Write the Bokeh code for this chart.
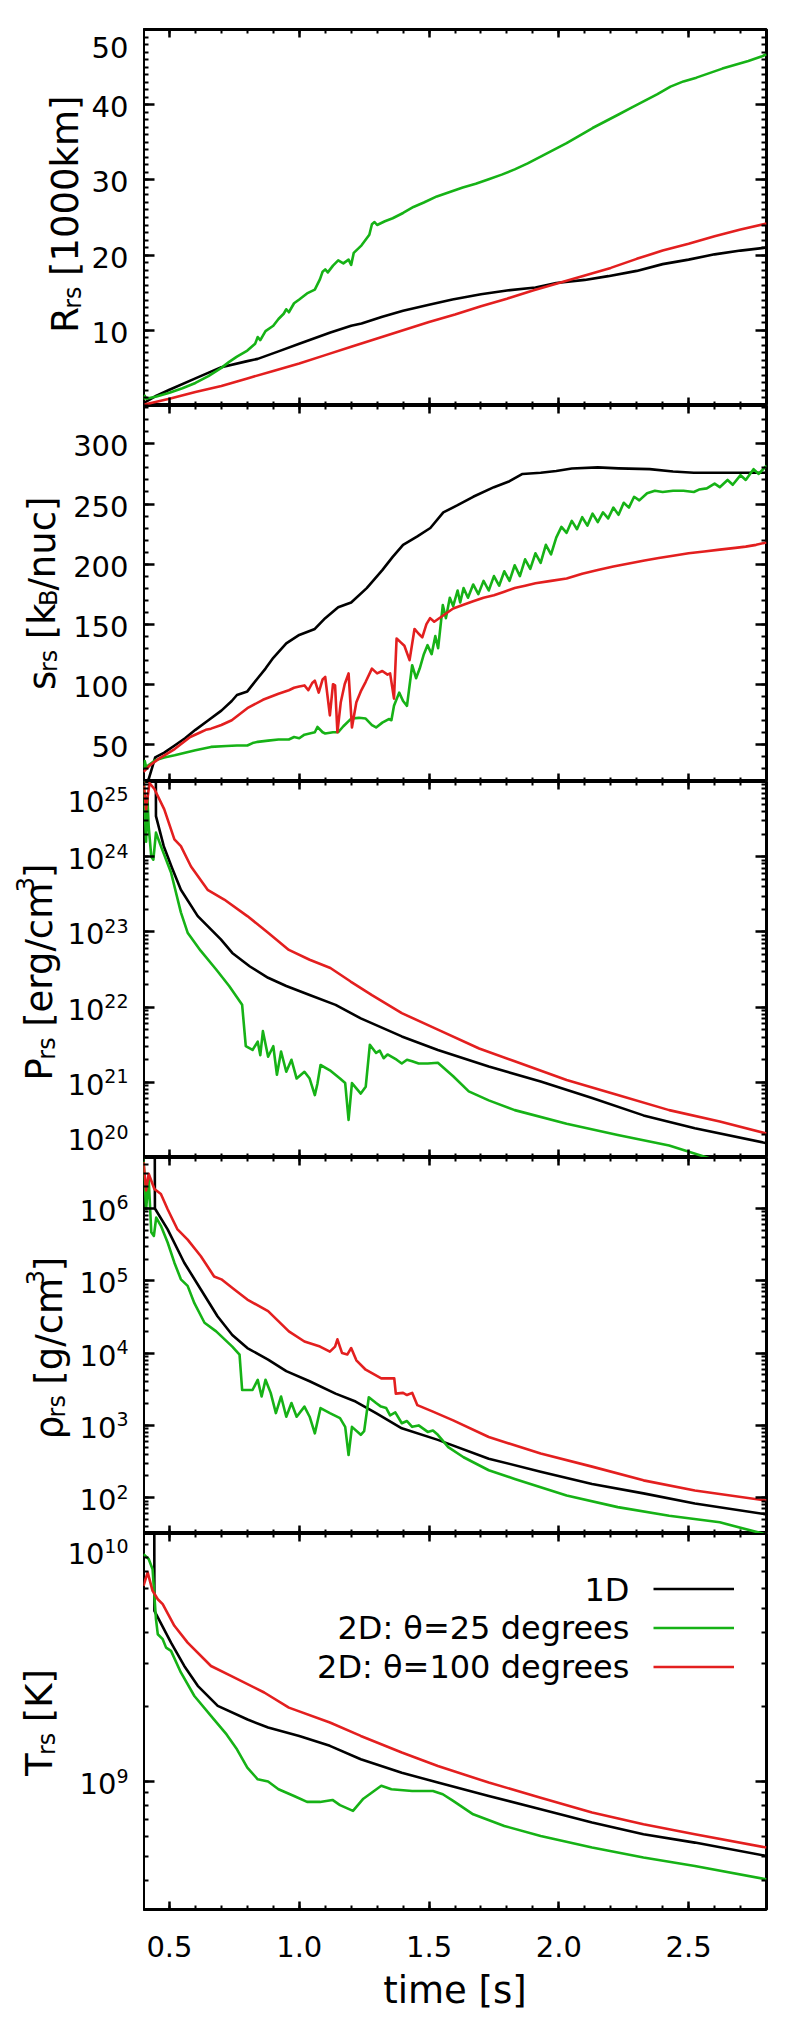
import numpy as np
from math import pi, log10
from bokeh.plotting import figure
from bokeh.models import (FixedTicker, LinearAxis, Label, Legend, LegendItem,
                          Range1d, PrintfTickFormatter, CustomJSTickFormatter)
from bokeh.core.properties import value
from bokeh.layouts import column, row
from bokeh.embed import file_html
from bokeh.resources import INLINE

# ---------------- data (time in s) ----------------
# Panel 1: shock radius [1000 km]
R_t_1d = [0.40, 0.45, 0.50, 0.60, 0.70, 0.80, 0.84, 0.92, 1.00, 1.04, 1.12, 1.20, 1.24, 1.32, 1.40,
          1.50, 1.59, 1.70, 1.80, 1.91, 1.99, 2.10, 2.19, 2.30, 2.40, 2.50, 2.60, 2.70, 2.80]
R_1d = [0.3, 1.3, 2.1, 3.6, 5.1, 5.9, 6.2, 7.2, 8.2, 8.7, 9.7, 10.6, 10.9, 11.8, 12.6,
        13.4, 14.1, 14.8, 15.3, 15.7, 16.3, 16.7, 17.2, 17.9, 18.8, 19.4, 20.1, 20.6, 21.0]
R_t_25 = [0.40, 0.405, 0.41, 0.45, 0.50, 0.55, 0.60, 0.65, 0.70, 0.73, 0.76, 0.80, 0.83, 0.84, 0.85,
          0.87, 0.90, 0.92, 0.94, 0.95, 0.96, 0.98, 1.00, 1.03, 1.06, 1.08, 1.09, 1.10, 1.11, 1.13,
          1.15, 1.17, 1.19, 1.20, 1.21, 1.24, 1.27, 1.28, 1.29, 1.30, 1.33, 1.36, 1.40, 1.44, 1.48,
          1.53, 1.58, 1.63, 1.68, 1.73, 1.78, 1.83, 1.88, 1.93, 1.98, 2.03, 2.08, 2.13, 2.18, 2.23,
          2.28, 2.33, 2.38, 2.43, 2.48, 2.53, 2.58, 2.63, 2.68, 2.73, 2.78, 2.80]
R_25 = [0.8, 1.3, 0.9, 1.2, 1.7, 2.3, 3.0, 3.9, 5.0, 5.8, 6.5, 7.3, 8.2, 9.1, 8.7,
        9.9, 10.6, 11.5, 12.2, 12.8, 12.4, 13.6, 14.1, 14.9, 15.4, 16.8, 17.8, 18.1, 17.7, 18.6,
        19.3, 18.9, 19.4, 18.7, 20.3, 21.3, 22.7, 24.1, 24.4, 24.0, 24.5, 24.9, 25.6, 26.4, 27.0,
        27.8, 28.4, 29.0, 29.5, 30.1, 30.7, 31.4, 32.2, 33.1, 34.0, 34.9, 35.9, 36.9, 37.8, 38.7,
        39.6, 40.5, 41.4, 42.4, 43.1, 43.6, 44.2, 44.8, 45.3, 45.8, 46.4, 46.7]
R_t_100 = [0.40, 0.50, 0.60, 0.70, 0.80, 0.90, 1.00, 1.10, 1.20, 1.30, 1.40, 1.50, 1.60, 1.70, 1.80,
           1.90, 2.00, 2.10, 2.20, 2.30, 2.40, 2.50, 2.60, 2.70, 2.80]
R_100 = [0.1, 0.9, 1.8, 2.6, 3.6, 4.6, 5.6, 6.7, 7.8, 8.9, 10.0, 11.1, 12.1, 13.2, 14.2,
         15.3, 16.3, 17.3, 18.3, 19.5, 20.6, 21.5, 22.5, 23.4, 24.2]

# Panel 2: entropy [kB/nuc]
s_t_1d = [0.40, 0.42, 0.445, 0.48, 0.52, 0.56, 0.60, 0.65, 0.70, 0.74, 0.76, 0.80, 0.84, 0.87, 0.90,
          0.95, 1.00, 1.06, 1.10, 1.15, 1.20, 1.26, 1.32, 1.36, 1.40, 1.455, 1.505, 1.555, 1.61, 1.67,
          1.75, 1.81, 1.86, 1.93, 1.99, 2.05, 2.15, 2.23, 2.35, 2.44, 2.52, 2.65, 2.80]
s_1d = [10, 21, 39, 43, 49, 55, 62, 70, 78, 86, 91, 94, 105, 113, 122,
        134, 141, 146, 155, 164, 168, 180, 195, 206, 216, 223, 230, 243, 249, 256,
        264, 269, 275, 276, 277.5, 279.5, 280.5, 279.7, 279, 277, 276, 276, 276]
s_t_25 = [0.40, 0.405, 0.41, 0.445, 0.48, 0.52, 0.56, 0.60, 0.66, 0.72, 0.76, 0.80, 0.82, 0.84, 0.88,
          0.92, 0.96, 0.98, 1.00, 1.02, 1.04, 1.06, 1.07, 1.09, 1.10, 1.13, 1.15, 1.17, 1.20, 1.23,
          1.256, 1.28, 1.296, 1.32, 1.345, 1.355, 1.365, 1.385, 1.40, 1.415, 1.435, 1.45, 1.464, 1.48,
          1.494, 1.51, 1.524, 1.535, 1.553, 1.565, 1.58, 1.593, 1.61, 1.62, 1.633, 1.65, 1.67, 1.69,
          1.71, 1.73, 1.75, 1.77, 1.79, 1.81, 1.83, 1.85, 1.87, 1.89, 1.91, 1.93, 1.95, 1.97, 1.99,
          2.01, 2.03, 2.05, 2.07, 2.09, 2.11, 2.13, 2.15, 2.17, 2.19, 2.21, 2.23, 2.25, 2.27, 2.29,
          2.31, 2.34, 2.37, 2.40, 2.44, 2.48, 2.52, 2.54, 2.57, 2.60, 2.62, 2.65, 2.67, 2.70, 2.72,
          2.75, 2.77, 2.80]
s_25 = [30, 36, 31, 36.7, 39, 40.8, 43, 45, 47.8, 48.6, 49, 49, 51, 52, 53,
        54, 54, 56, 55, 58, 59, 60, 64.4, 60, 59, 60, 60, 65, 71.4, 72,
        71.4, 66, 64, 68, 71, 70, 82, 93, 86, 82, 115.8, 105, 113, 125,
        132.5, 125, 140, 130, 165.8, 155, 172, 165, 178, 168, 180, 172, 183, 175,
        186, 178, 190, 182, 194, 186, 199, 190, 204, 196, 209, 201, 216, 208, 222,
        231, 226, 236, 229, 239, 232, 242, 235, 243, 238, 247, 241, 251, 247, 256,
        253, 259, 261, 260, 261, 261, 260, 262, 263, 267, 264, 270, 266, 274, 270,
        279, 275, 282]
s_t_100 = [0.40, 0.425, 0.46, 0.52, 0.58, 0.62, 0.64, 0.66, 0.70, 0.74, 0.80, 0.86, 0.92, 0.96, 0.98,
           1.00, 1.02, 1.035, 1.05, 1.06, 1.075, 1.09, 1.10, 1.118, 1.13, 1.138, 1.147, 1.16, 1.175,
           1.19, 1.203, 1.22, 1.237, 1.256, 1.28, 1.30, 1.32, 1.34, 1.35, 1.365, 1.375, 1.39, 1.405,
           1.425, 1.444, 1.46, 1.474, 1.49, 1.504, 1.52, 1.553, 1.593, 1.63, 1.67, 1.71, 1.75, 1.79,
           1.83, 1.87, 1.91, 1.97, 2.03, 2.09, 2.15, 2.21, 2.27, 2.33, 2.385, 2.44, 2.50, 2.56, 2.62,
           2.68, 2.72, 2.76, 2.80]
s_100 = [27, 32.5, 38, 46, 56, 60, 62, 63, 66, 70, 80, 87, 92, 95, 97,
         98, 99, 95, 101, 103, 93, 104, 106, 74, 100, 99, 60, 85, 100,
         109, 64, 85, 94, 102, 113, 109, 111, 108, 109, 88, 138, 135, 132,
         120, 146, 142, 139, 150, 155, 152, 157, 163, 166, 169, 172, 174, 177,
         180, 182, 184, 186, 188, 192, 195, 198, 200.5, 203, 205, 207, 209, 210.5, 212,
         213.5, 214.5, 216, 218]

# Panel 3: pressure, log10 [erg/cm^3]
P_t_1d = [0.40, 0.447, 0.448, 0.478, 0.51, 0.544, 0.609, 0.698, 0.742, 0.81, 0.88, 0.95, 1.04, 1.14,
          1.237, 1.395, 1.534, 1.73, 1.93, 2.128, 2.326, 2.524, 2.80]
P_1d_log = [26.0, 26.0, 24.54, 24.14, 23.85, 23.56, 23.21, 22.90, 22.72, 22.54, 22.39, 22.28, 22.16,
            22.03, 21.85, 21.61, 21.43, 21.21, 21.01, 20.79, 20.56, 20.39, 20.19]
P_t_25 = [0.40, 0.405, 0.41, 0.415, 0.42, 0.43, 0.438, 0.448, 0.467, 0.506, 0.544, 0.57, 0.62, 0.68,
          0.73, 0.78, 0.794, 0.82, 0.84, 0.85, 0.86, 0.88, 0.90, 0.914, 0.93, 0.95, 0.97, 0.99, 1.02,
          1.04, 1.06, 1.07, 1.082, 1.118, 1.157, 1.177, 1.19, 1.203, 1.237, 1.256, 1.272, 1.296, 1.31,
          1.325, 1.34, 1.355, 1.375, 1.395, 1.415, 1.435, 1.46, 1.495, 1.534, 1.593, 1.653, 1.73,
          1.83, 2.03, 2.227, 2.425, 2.58, 2.80]
P_25_log = [25.2, 24.6, 24.2, 24.8, 24.4, 24.0, 23.96, 24.32, 24.14, 23.79, 23.26, 22.99, 22.75,
            22.50, 22.28, 22.03, 21.48, 21.43, 21.54, 21.36, 21.68, 21.34, 21.48, 21.10, 21.41,
            21.14, 21.30, 21.05, 21.14, 21.05, 20.83, 20.98, 21.23, 21.16, 21.05, 20.99, 20.50,
            20.99, 20.85, 20.94, 21.50, 21.39, 21.42, 21.32, 21.37, 21.34, 21.30, 21.25, 21.30,
            21.28, 21.25, 21.25, 21.26, 21.08, 20.88, 20.76, 20.63, 20.45, 20.30, 20.16, 19.99, 19.82]
P_t_100 = [0.40, 0.41, 0.423, 0.442, 0.48, 0.519, 0.544, 0.583, 0.647, 0.711, 0.80, 0.88, 0.96,
           1.04, 1.12, 1.198, 1.28, 1.395, 1.534, 1.693, 1.83, 2.03, 2.227, 2.425, 2.62, 2.80]
P_100_log = [25.0, 24.63, 24.98, 24.90, 24.63, 24.23, 24.14, 23.87, 23.56, 23.43, 23.21, 22.99,
             22.76, 22.63, 22.52, 22.34, 22.16, 21.92, 21.70, 21.45, 21.28, 21.03, 20.83, 20.63,
             20.48, 20.32]

# Panel 4: density, log10 [g/cm^3]
rho_t_1d = [0.40, 0.443, 0.444, 0.493, 0.557, 0.621, 0.685, 0.742, 0.80, 0.88, 0.95, 1.04, 1.14,
            1.217, 1.296, 1.395, 1.534, 1.73, 1.93, 2.128, 2.326, 2.524, 2.80]
rho_1d_log = [7.5, 7.5, 6.0, 5.71, 5.25, 4.88, 4.51, 4.25, 4.07, 3.91, 3.75, 3.61, 3.44,
              3.33, 3.17, 2.96, 2.80, 2.54, 2.36, 2.19, 2.06, 1.92, 1.77]
rho_t_25 = [0.40, 0.41, 0.42, 0.43, 0.44, 0.449, 0.467, 0.493, 0.519, 0.544, 0.57, 0.596, 0.635,
            0.68, 0.742, 0.77, 0.78, 0.82, 0.84, 0.855, 0.87, 0.89, 0.91, 0.93, 0.95, 0.97, 0.99,
            1.02, 1.04, 1.06, 1.082, 1.118, 1.157, 1.177, 1.19, 1.203, 1.237, 1.25, 1.268, 1.296,
            1.315, 1.335, 1.35, 1.37, 1.395, 1.415, 1.435, 1.46, 1.495, 1.515, 1.534, 1.574, 1.633,
            1.73, 1.83, 2.03, 2.227, 2.425, 2.62, 2.80]
rho_25_log = [6.69, 5.99, 6.41, 5.67, 5.62, 5.875, 5.76, 5.53, 5.25, 5.02, 4.93, 4.69, 4.42,
              4.30, 4.09, 3.98, 3.49, 3.49, 3.63, 3.40, 3.63, 3.45, 3.17, 3.40, 3.12, 3.31, 3.12,
              3.26, 3.12, 2.89, 3.24, 3.17, 3.10, 2.98, 2.59, 2.98, 2.87, 2.92, 3.39, 3.31,
              3.26, 3.24, 3.14, 3.18, 3.03, 3.06, 2.98, 3.00, 2.91, 2.93, 2.87, 2.70, 2.56,
              2.38, 2.26, 2.03, 1.87, 1.75, 1.66, 1.49]
rho_t_100 = [0.40, 0.41, 0.42, 0.442, 0.467, 0.493, 0.531, 0.57, 0.621, 0.672, 0.70, 0.75, 0.80,
             0.88, 0.96, 1.02, 1.08, 1.118, 1.138, 1.147, 1.165, 1.185, 1.20, 1.22, 1.256, 1.316,
             1.366, 1.372, 1.40, 1.415, 1.435, 1.455, 1.515, 1.593, 1.73, 1.93, 2.128, 2.326,
             2.524, 2.80]
rho_100_log = [6.64, 6.25, 6.48, 6.27, 6.20, 5.99, 5.71, 5.57, 5.34, 5.06, 5.02, 4.88, 4.74,
               4.58, 4.30, 4.16, 4.09, 4.02, 4.09, 4.19, 4.00, 3.98, 4.07, 3.90, 3.77, 3.65,
               3.65, 3.44, 3.45, 3.42, 3.45, 3.28, 3.19, 3.07, 2.84, 2.61, 2.43, 2.24,
               2.10, 1.96]

# Panel 5: temperature, log10 [K]
T_t_1d = [0.40, 0.441, 0.442, 0.506, 0.557, 0.609, 0.686, 0.801, 0.88, 1.00, 1.118, 1.237, 1.395,
          1.534, 1.73, 1.93, 2.128, 2.326, 2.524, 2.80]
T_1d_log = [10.5, 10.5, 9.688, 9.56, 9.466, 9.386, 9.305, 9.25, 9.218, 9.184, 9.144, 9.09, 9.036,
            8.996, 8.942, 8.888, 8.835, 8.788, 8.754, 8.70]
T_t_25 = [0.40, 0.42, 0.435, 0.448, 0.455, 0.474, 0.487, 0.506, 0.544, 0.596, 0.672, 0.72, 0.76,
          0.80, 0.84, 0.88, 0.92, 0.98, 1.03, 1.08, 1.128, 1.157, 1.207, 1.247, 1.316, 1.355,
          1.435, 1.515, 1.553, 1.593, 1.67, 1.79, 1.93, 2.128, 2.326, 2.524, 2.80]
T_25_log = [9.917, 9.897, 9.856, 9.655, 9.594, 9.574, 9.54, 9.527, 9.44, 9.345, 9.25, 9.19, 9.13,
            9.056, 9.009, 9.0, 8.969, 8.942, 8.918, 8.918, 8.926, 8.905, 8.882, 8.931, 8.983, 8.969,
            8.962, 8.962, 8.949, 8.922, 8.868, 8.821, 8.781, 8.734, 8.694, 8.66, 8.606]
T_t_100 = [0.40, 0.416, 0.435, 0.455, 0.474, 0.519, 0.57, 0.66, 0.737, 0.865, 0.96, 1.118, 1.237,
           1.395, 1.534, 1.73, 1.93, 2.128, 2.326, 2.524, 2.80]
T_100_log = [9.789, 9.843, 9.769, 9.735, 9.715, 9.628, 9.56, 9.466, 9.426, 9.359, 9.298, 9.238,
             9.184, 9.117, 9.063, 8.996, 8.935, 8.875, 8.828, 8.788, 8.734]

# ---------------- axes / labels ----------------
x_major = [0.5, 1.0, 1.5, 2.0, 2.5]
x_minor = [round(0.4 + 0.1 * i, 1) for i in range(25)]

R_ticks = [10, 20, 30, 40]
R_edge = 50
s_ticks = [50, 100, 150, 200, 250, 300]
P_ticks = [1e21, 1e22, 1e23, 1e24]
P_edge_top, P_edge_bottom = 1e25, 1e20
rho_ticks = [1e2, 1e3, 1e4, 1e5, 1e6]
T_ticks = [1e9]
T_edge_top = 1e10

legend_labels = ["1D", "2D: \u03b8=25 degrees", "2D: \u03b8=100 degrees"]
BLACK = "#000000"
GREEN = "#16b216"
RED = "#e31f1f"

FONT = "DejaVu Sans"
TICK_FS = 29
EXP_FS = 19
TITLE_FS = 37
SUB_FS = 24

LEFT_W = 143
FRAME_W, FRAME_H = 623, 376
LABEL_RIGHT = 128   # right edge of the y tick labels (page px)

CW = {' ': .318, '[': .390, ']': .390, '/': .337, ':': .337, '=': .838, 'R': .695, 's': .521,
      'r': .411, 'k': .579, 'm': .974, 'B': .686, 'n': .634, 'u': .634, 'c': .550, 'P': .603,
      'e': .615, 'g': .635, 'T': .611, 'K': .656, '\u03c1': .635, 'D': .770}
for d in "0123456789":
    CW[d] = .636


def tw(txt, size, k=1.0):
    return sum(CW.get(ch, .6) for ch in txt) * size * k


x_range = Range1d(0.4, 2.8)
BLANK = CustomJSTickFormatter(code="return ''")


def style_axis(ax, major_in, minor_in, show_labels):
    ax.axis_line_color = None
    ax.major_tick_in = major_in
    ax.major_tick_out = 0
    ax.minor_tick_in = minor_in
    ax.minor_tick_out = 0
    ax.major_tick_line_width = 2.5
    ax.minor_tick_line_width = 2
    ax.major_tick_line_color = "black"
    ax.minor_tick_line_color = "black"
    if show_labels:
        ax.major_label_text_font = FONT
        ax.major_label_text_font_size = f"{TICK_FS}px"
        ax.major_label_text_color = "black"
    else:
        ax.formatter = BLANK
        ax.major_label_text_font_size = "0px"
        ax.major_label_standoff = 0


def make_panel(y_range, log, y_major, y_minor, first=False, last=False):
    p = figure(frame_width=FRAME_W, frame_height=FRAME_H, x_range=x_range, y_range=y_range,
               y_axis_type="log" if log else "linear", output_backend="svg",
               toolbar_location=None, min_border_left=0, min_border_right=20,
               min_border_top=29 if first else 0, min_border_bottom=0,
               background_fill_color="white", border_fill_color="white")
    p.grid.visible = False
    p.outline_line_color = "black"
    p.outline_line_width = 3
    xt = FixedTicker(ticks=x_major, minor_ticks=x_minor)
    yt = FixedTicker(ticks=y_major, minor_ticks=y_minor)
    xa = p.xaxis[0]
    xa.ticker = xt
    style_axis(xa, 8, 4, last)
    if last:
        xa.formatter = PrintfTickFormatter(format="%.1f")
        xa.major_label_standoff = 26
        xa.axis_label = "time [s]"
        xa.axis_label_text_font = FONT
        xa.axis_label_text_font_size = f"{TITLE_FS}px"
        xa.axis_label_text_font_style = "normal"
        xa.axis_label_text_color = "black"
        xa.axis_label_standoff = 9
    top = LinearAxis(ticker=xt)
    style_axis(top, 8, 4, False)
    p.add_layout(top, "above")
    ya = p.yaxis[0]
    ya.ticker = yt
    style_axis(ya, 11, 5, False)
    right = LinearAxis(ticker=yt)
    style_axis(right, 11, 5, False)
    p.add_layout(right, "right")
    return p


def make_label_fig(y_range, log, first=False):
    # companion figure left of each panel, sharing its y range; it holds the tick labels
    # and the axis title so that they are not clipped by the panel frame
    f = figure(frame_width=LEFT_W, frame_height=FRAME_H, x_range=Range1d(0, LEFT_W),
               y_range=y_range, y_axis_type="log" if log else "linear",
               x_axis_location=None, y_axis_location=None, output_backend="svg",
               toolbar_location=None, min_border_left=0, min_border_right=0,
               min_border_top=29 if first else 0, min_border_bottom=0,
               background_fill_color="white", border_fill_color="white")
    f.grid.visible = False
    f.outline_line_color = None
    return f


def text_at(f, x, txt, size, y=None, dy=0, align="left", baseline="alphabetic", angle=0.0):
    f.add_layout(Label(x=x, y=f.y_range.start if y is None else y, y_offset=dy, text=txt,
                       angle=angle, text_align=align, text_baseline=baseline,
                       text_font=FONT, text_font_size=f"{size}px", text_color="black"))


def num_label(f, v, dy=-2, at=None):
    text_at(f, LABEL_RIGHT, str(int(v)), TICK_FS, y=v if at is None else at, dy=dy,
            align="right", baseline="middle")


def pow_label(f, v, dy=-2, at=None):
    e = str(int(round(log10(v))))
    yy = v if at is None else at
    text_at(f, LABEL_RIGHT, e, EXP_FS, y=yy, dy=dy + 8, align="right", baseline="middle")
    text_at(f, LABEL_RIGHT - tw(e, EXP_FS), "10", TICK_FS, y=yy, dy=dy, align="right",
            baseline="middle")


def add_ytitle(f, pieces, xb):
    K = 0.93  # measured / estimated advance width
    sizes = {"m": TITLE_FS, "sub": SUB_FS, "sup": SUB_FS}
    shifts = {"m": 0, "sub": 7, "sup": -15}
    gap = 12
    total = sum(gap if k == "gap" else tw(t, sizes[k], K) for t, k in pieces)
    y = FRAME_H / 2 - 3 - total / 2
    for t, k in pieces:
        if k == "gap":
            y += gap
            continue
        text_at(f, xb + shifts[k], t, sizes[k], dy=y, angle=pi / 2)
        y += tw(t, sizes[k], K)


def log_minor(lo_exp, hi_exp):
    return [m * 10.0 ** e for e in range(lo_exp, hi_exp + 1) for m in range(1, 10)]


def draw(p, series, log):
    out = []
    for t, v, c in series:
        yy = (10.0 ** np.array(v)).tolist() if log else v
        out.append(p.line(t, yy, line_color=c, line_width=2.6, line_join="round"))
    return out


# Panel 1
yr1 = Range1d(0, 50)
p1 = make_panel(yr1, False, R_ticks, list(range(0, 51)), first=True)
f1 = make_label_fig(yr1, False, first=True)
draw(p1, [(R_t_1d, R_1d, BLACK), (R_t_25, R_25, GREEN), (R_t_100, R_100, RED)], False)
for v in R_ticks:
    num_label(f1, v)
num_label(f1, R_edge, dy=FRAME_H - 18, at=yr1.start)
add_ytitle(f1, [("R", "m"), ("rs", "sub"), ("", "gap"), ("[1000km]", "m")], 65)

# Panel 2
yr2 = Range1d(19, 332)
p2 = make_panel(yr2, False, s_ticks, list(range(20, 340, 10)))
f2 = make_label_fig(yr2, False)
draw(p2, [(s_t_1d, s_1d, BLACK), (s_t_25, s_25, GREEN), (s_t_100, s_100, RED)], False)
for v in s_ticks:
    num_label(f2, v)
add_ytitle(f2, [("s", "m"), ("rs", "sub"), ("", "gap"), ("[k", "m"), ("B", "sub"), ("/nuc]", "m")], 41.5)

# Panel 3
yr3 = Range1d(1e20, 1.0000001e25)
p3 = make_panel(yr3, True, P_ticks, log_minor(20, 24))
f3 = make_label_fig(yr3, True)
draw(p3, [(P_t_1d, P_1d_log, BLACK), (P_t_25, P_25_log, GREEN), (P_t_100, P_100_log, RED)], True)
for v in P_ticks:
    pow_label(f3, v)
pow_label(f3, P_edge_top, dy=FRAME_H - 20, at=yr3.start)
pow_label(f3, P_edge_bottom, dy=18, at=yr3.start)
add_ytitle(f3, [("P", "m"), ("rs", "sub"), ("", "gap"), ("[erg/cm", "m"), ("3", "sup"), ("]", "m")], 39)

# Panel 4
yr4 = Range1d(32, 5.07e6)
p4 = make_panel(yr4, True, rho_ticks, log_minor(1, 6))
f4 = make_label_fig(yr4, True)
draw(p4, [(rho_t_1d, rho_1d_log, BLACK), (rho_t_25, rho_25_log, GREEN), (rho_t_100, rho_100_log, RED)], True)
for v in rho_ticks:
    pow_label(f4, v)
add_ytitle(f4, [("\u03c1", "m"), ("rs", "sub"), ("", "gap"), ("[g/cm", "m"), ("3", "sup"), ("]", "m")], 49)

# Panel 5
yr5 = Range1d(3.05e8, 1.0000001e10)
p5 = make_panel(yr5, True, T_ticks, log_minor(8, 9), last=True)
f5 = make_label_fig(yr5, True)
r5 = draw(p5, [(T_t_1d, T_1d_log, BLACK), (T_t_25, T_25_log, GREEN), (T_t_100, T_100_log, RED)], True)
for v in T_ticks:
    pow_label(f5, v)
pow_label(f5, T_edge_top, dy=FRAME_H - 20, at=yr5.start)
add_ytitle(f5, [("T", "m"), ("rs", "sub"), ("", "gap"), ("[K]", "m")], 39)

# legend: texts to the left, line samples from a Bokeh Legend without label text
rows = [320, 281.3, 242.3]
for lab, ry in zip(legend_labels, rows):
    text_at(p5, 2.272, lab, 32, dy=ry, align="right", baseline="middle")
leg = Legend(items=[LegendItem(label=value(""), renderers=[r]) for r in r5],
             location=(510, 223), orientation="vertical", glyph_width=81, glyph_height=39,
             label_width=0, label_height=39, label_standoff=0, spacing=0, padding=0, margin=0,
             label_text_font_size="1px", border_line_color=None, background_fill_alpha=0)
p5.add_layout(leg)

layout = column(row(f1, p1, spacing=0), row(f2, p2, spacing=0), row(f3, p3, spacing=0),
                row(f4, p4, spacing=0), row(f5, p5, spacing=0), spacing=0)
open("out.html", "w").write(file_html(layout, INLINE))
